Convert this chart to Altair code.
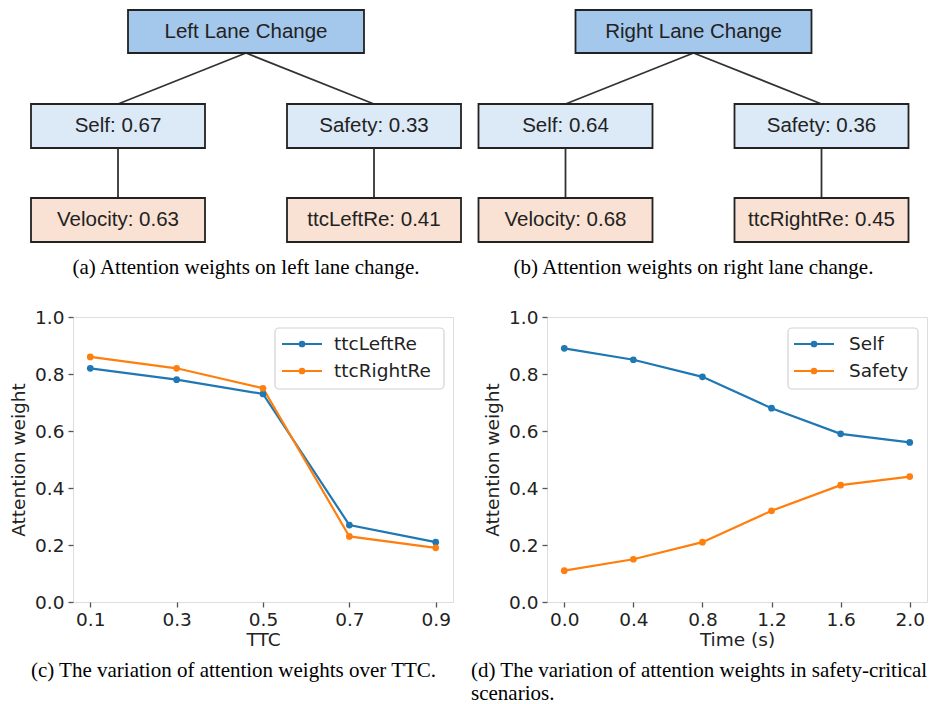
import altair as alt
import pandas as pd

# ---------------- data ----------------
ttc_vals = [0.1, 0.3, 0.5, 0.7, 0.9]
ttc_left = [0.82, 0.78, 0.73, 0.27, 0.21]
ttc_right = [0.86, 0.82, 0.75, 0.23, 0.19]
c_names = ["ttcLeftRe", "ttcRightRe"]

time_vals = [0.0, 0.4, 0.8, 1.2, 1.6, 2.0]
self_vals = [0.89, 0.85, 0.79, 0.68, 0.59, 0.56]
safety_vals = [0.11, 0.15, 0.21, 0.32, 0.41, 0.44]
d_names = ["Self", "Safety"]

tree_roots = ["Left Lane Change", "Right Lane Change"]
tree_self = [0.67, 0.64]
tree_safety = [0.33, 0.36]
tree_velocity = [0.63, 0.68]
tree_ttc_names = ["ttcLeftRe", "ttcRightRe"]
tree_ttc = [0.41, 0.45]

captions_top = ["(a) Attention weights on left lane change.",
                "(b) Attention weights on right lane change."]
caption_c = "(c) The variation of attention weights over TTC."
caption_d = ["(d) The variation of attention weights in safety-critical", "scenarios."]

y_ticks = [0.0, 0.2, 0.4, 0.6, 0.8, 1.0]
colors = ["#1f77b4", "#ff7f0e"]

# ---------------- style / layout ----------------
PW, PH = 380, 285
AX_FONT = "DejaVu Sans"
AX_SIZE = 18.5
TXT = "#222222"
SPINE = "#555555"


def tree_layers(idx, cx):
    top = [-307, -213, -119]
    hgt = [43, 44, 44]
    root_hw, child_hw, child_dx = 118, 87, 128
    fills = ["#a4c7ec", "#dce9f7", "#f9e1d3"]
    nodes = [
        dict(label=tree_roots[idx], lvl=0, cx=cx, hw=root_hw),
        dict(label=f"Self: {tree_self[idx]:.2f}", lvl=1, cx=cx - child_dx, hw=child_hw),
        dict(label=f"Safety: {tree_safety[idx]:.2f}", lvl=1, cx=cx + child_dx, hw=child_hw),
        dict(label=f"Velocity: {tree_velocity[idx]:.2f}", lvl=2, cx=cx - child_dx, hw=child_hw),
        dict(label=f"{tree_ttc_names[idx]}: {tree_ttc[idx]:.2f}", lvl=2, cx=cx + child_dx, hw=child_hw),
    ]
    for n in nodes:
        n["x"] = n["cx"] - n["hw"]
        n["x2"] = n["cx"] + n["hw"]
        n["y"] = top[n["lvl"]]
        n["y2"] = top[n["lvl"]] + hgt[n["lvl"]]
        n["cy"] = (n["y"] + n["y2"]) / 2
        n["fill"] = fills[n["lvl"]]
    ndf = pd.DataFrame(nodes)
    edges = []
    for p, c in [(0, 1), (0, 2), (1, 3), (2, 4)]:
        edges.append(dict(x=nodes[p]["cx"], y=nodes[p]["y2"], x2=nodes[c]["cx"], y2=nodes[c]["y"]))
    edf = pd.DataFrame(edges)

    ex = alt.X("x:Q", scale=None, axis=None)
    ey = alt.Y("y:Q", scale=None, axis=None)
    edge_l = alt.Chart(edf).mark_rule(stroke="#333333", strokeWidth=1.8).encode(
        x=ex, y=ey, x2="x2:Q", y2="y2:Q")
    box_l = alt.Chart(ndf).mark_rect(stroke="#222222", strokeWidth=1.8).encode(
        x=ex, y=ey, x2="x2:Q", y2="y2:Q", fill=alt.Fill("fill:N", scale=None))
    txt_l = alt.Chart(ndf).mark_text(font="Liberation Sans", fontSize=20.5, color=TXT,
                                     baseline="middle", align="center").encode(
        x=alt.X("cx:Q", scale=None, axis=None), y=alt.Y("cy:Q", scale=None, axis=None),
        text="label:N")
    cap_df = pd.DataFrame({"t": [captions_top[idx]]})
    cap_l = alt.Chart(cap_df).mark_text(font="Liberation Serif", fontSize=21, color="black",
                                        align="center", baseline="alphabetic").encode(
        x=alt.value(cx), y=alt.value(-43), text="t:N")
    return [edge_l, box_l, txt_l, cap_l]


def legend_layers(names, box, line_x, dot_x, text_x, ys):
    one = pd.DataFrame({"k": [0]})
    layers = [alt.Chart(one).mark_rect(fill="white", stroke="#cccccc", strokeWidth=1.2,
                                       cornerRadius=4, opacity=0.85).encode(
        x=alt.value(box[0]), x2=alt.value(box[1]), y=alt.value(box[2]), y2=alt.value(box[3]))]
    for i, nm in enumerate(names):
        d = pd.DataFrame({"s": [nm]})
        layers.append(alt.Chart(d).mark_rule(color=colors[i], strokeWidth=2.2).encode(
            x=alt.value(line_x[0]), x2=alt.value(line_x[1]), y=alt.value(ys[i])))
        layers.append(alt.Chart(d).mark_circle(color=colors[i], size=45, opacity=1).encode(
            x=alt.value(dot_x), y=alt.value(ys[i])))
        layers.append(alt.Chart(d).mark_text(font=AX_FONT, fontSize=AX_SIZE, color=TXT,
                                             align="left", baseline="middle").encode(
            x=alt.value(text_x), y=alt.value(ys[i]), text="s:N"))
    return layers


def line_layers(xvals, series, names, xdomain, xticks, xtitle):
    rows = []
    for nm, ys in zip(names, series):
        for xv, yv in zip(xvals, ys):
            rows.append(dict(x=xv, y=yv, s=nm))
    df = pd.DataFrame(rows)
    xenc = alt.X("x:Q", scale=alt.Scale(domain=xdomain, nice=False, zero=False),
                 axis=alt.Axis(values=xticks, format=".1f", title=xtitle, grid=False,
                               domain=False, tickSize=5, tickWidth=1.3, tickColor=SPINE,
                               labelPadding=3, labelFont=AX_FONT, labelFontSize=AX_SIZE,
                               labelColor=TXT, titleFont=AX_FONT, titleFontSize=AX_SIZE,
                               titleFontWeight="normal", titleColor=TXT, titlePadding=2,
                               labelFlush=False))
    yenc = alt.Y("y:Q", scale=alt.Scale(domain=[0, 1], nice=False, zero=False),
                 axis=alt.Axis(values=y_ticks, format=".1f", title="Attention weight",
                               grid=False, domain=False, tickSize=5, tickWidth=1.3,
                               tickColor=SPINE, labelPadding=4, labelFont=AX_FONT,
                               labelFontSize=AX_SIZE, labelColor=TXT, titleFont=AX_FONT,
                               titleFontSize=AX_SIZE, titleFontWeight="normal",
                               titleColor=TXT, titlePadding=6, labelFlush=False))
    col = alt.Color("s:N", scale=alt.Scale(domain=names, range=colors), legend=None)
    base = alt.Chart(df).encode(x=xenc, y=yenc, color=col)
    return [base.mark_line(strokeWidth=2.2), base.mark_circle(size=45, opacity=1)]


def caption_layer(text, x, y, align):
    return alt.Chart(pd.DataFrame({"t": [text]})).mark_text(
        font="Liberation Serif", fontSize=21, color="black", align=align,
        baseline="alphabetic", lineBreak="\n", lineHeight=23).encode(
        x=alt.value(x), y=alt.value(y), text="t:N")


# invisible anchor fixing the top-left of the whole figure
anchor = alt.Chart(pd.DataFrame({"k": [0]})).mark_point(opacity=0, size=1).encode(
    x=alt.value(-64), y=alt.value(-308))

# ----- panel (a)+(c) -----
left = alt.layer(
    anchor,
    *tree_layers(0, 173),
    *line_layers(ttc_vals, [ttc_left, ttc_right], c_names, [0.06, 0.94], ttc_vals, "TTC"),
    *legend_layers(c_names, (202, 371, 11, 72), (209, 249), 229, 261, (27, 54)),
    caption_layer(caption_c, 160.5, 360, "center"),
).properties(width=PW, height=PH)

# ----- panel (b)+(d) -----
right = alt.layer(
    *tree_layers(1, 146.5),
    *line_layers(time_vals, [self_vals, safety_vals], d_names, [-0.1, 2.1], time_vals, "Time (s)"),
    *legend_layers(d_names, (241, 371, 11, 72), (247, 287), 267, 302, (27, 54)),
    caption_layer("\n".join(caption_d), -76, 360, "left"),
).properties(width=PW, height=PH)

chart = alt.hconcat(left, right, spacing=94, bounds="flush").resolve_scale(
    color="independent").properties(padding=0).configure_view(
    stroke=SPINE, strokeWidth=1.3).configure(background="white")

chart.save("out.html", embed_options={"renderer": "svg", "actions": False})
